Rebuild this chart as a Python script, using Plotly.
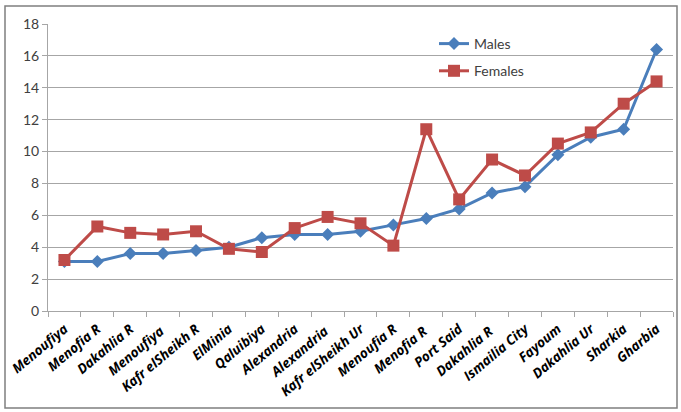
import plotly.graph_objects as go

# Governorate / area labels along the x axis
categories = [
    "Menoufiya", "Menofia R", "Dakahlia R", "Menoufiya ", "Kafr elSheikh R",
    "ElMinia", "Qaluibiya", "Alexandria", "Alexandria ", "Kafr elSheikh Ur",
    "Menoufia R", "Menofia R ", "Port Said", "Dakahlia R ", "Ismailia City",
    "Fayoum", "Dakahlia Ur", "Sharkia", "Gharbia",
]

males = [3.1, 3.1, 3.6, 3.6, 3.8, 4.0, 4.6, 4.8, 4.8, 5.0,
         5.4, 5.8, 6.4, 7.4, 7.8, 9.8, 10.9, 11.4, 16.4]
females = [3.2, 5.3, 4.9, 4.8, 5.0, 3.9, 3.7, 5.2, 5.9, 5.5,
           4.1, 11.4, 7.0, 9.5, 8.5, 10.5, 11.2, 13.0, 14.4]

y_ticks = [0, 2, 4, 6, 8, 10, 12, 14, 16, 18]

W, H = 681, 412
L, R, T, B = 48, 8, 24, 101

fig = go.Figure()
fig.add_trace(go.Scatter(
    x=categories, y=males, name="Males", mode="lines+markers",
    legendgroup="m",
    line=dict(color="#4A7EBB", width=3),
    marker=dict(symbol="diamond", size=10, color="#4A7EBB"),
))
fig.add_trace(go.Scatter(
    x=categories, y=females, name="Females", mode="lines+markers",
    legendgroup="f",
    line=dict(color="#BE4B48", width=3),
    marker=dict(symbol="square", size=12, color="#BE4B48"),
))

pw = W - L - R
ph = H - T - B

# outer chart frame
fig.add_shape(
    type="rect", xref="paper", yref="paper",
    x0=(5 - L) / pw, x1=(677 - L) / pw,
    y0=(H - B - 408) / ph, y1=(H - B - 6) / ph,
    line=dict(color="#7F7F7F", width=1.5), fillcolor="rgba(0,0,0,0)",
    layer="below",
)

fig.update_layout(
    width=W, height=H,
    margin=dict(l=L, r=R, t=T, b=B),
    paper_bgcolor="white", plot_bgcolor="white",
    font=dict(family="Lato, Open Sans, sans-serif", color="#404040"),
    showlegend=True,
    legend=dict(
        x=(434 - L) / pw, y=(H - B - 28) / ph, xanchor="left", yanchor="top",
        bgcolor="rgba(0,0,0,0)", font=dict(size=14, color="#404040"),
        tracegroupgap=6, itemwidth=30,
    ),
    xaxis=dict(
        type="category", tickangle=-40, ticklabelstandoff=4,
        tickfont=dict(size=13.5, family="Open Sans, Lato, sans-serif",
                      color="#000000", weight="bold", style="italic"),
        showline=True, linecolor="#A6A6A6", linewidth=1,
        ticks="outside", tickson="boundaries", ticklen=5, tickcolor="#A6A6A6",
        showgrid=False, range=[-0.5, len(categories) - 0.5],
    ),
    yaxis=dict(
        range=[0, 18], tickvals=y_ticks,
        tickfont=dict(size=14, color="#404040"),
        showline=True, linecolor="#A6A6A6", linewidth=1,
        ticks="outside", ticklen=5, tickcolor="#A6A6A6",
        showgrid=True, gridcolor="#A6A6A6", gridwidth=1,
        zeroline=False,
    ),
)

fig.write_html("out.html")
